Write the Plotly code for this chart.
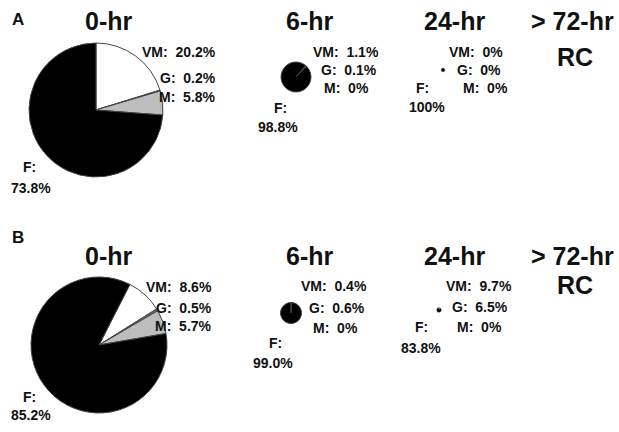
import plotly.graph_objects as go

W, H = 619, 432

# ---- data ----
categories = ["VM", "G", "M", "F"]
times = ["0-hr", "6-hr", "24-hr"]
panel_A = [[20.2, 0.2, 5.8, 73.8], [1.1, 0.1, 0.0, 98.8], [0.0, 0.0, 0.0, 100.0]]
panel_B = [[8.6, 0.5, 5.7, 85.2], [0.4, 0.6, 0.0, 99.0], [9.7, 6.5, 0.0, 83.8]]
f_labels_A = ["73.8%", "98.8%", "100%"]
f_labels_B = ["85.2%", "99.0%", "83.8%"]
last_label = ["> 72-hr", "RC"]

slice_colors = ["#ffffff", "#6e6e6e", "#bdbdbd", "#000000"]

# ---- layout (pixels) ----
pie_geom = {
    "A": [(96, 110, 67, 0), (296, 77, 15, 40), (443, 70, 1.8, 0)],
    "B": [(99, 345, 68, 27), (291, 313, 10.5, 0), (439, 310, 2.2, 0)],
}

fig = go.Figure()

def px(x):
    return x / W

def py(y):
    return 1 - y / H

for name, data in (("A", panel_A), ("B", panel_B)):
    for (cx, cy, r, rot), vals in zip(pie_geom[name], data):
        fig.add_trace(go.Pie(
            labels=categories, values=vals, sort=False, direction="clockwise",
            rotation=rot, textinfo="none", hoverinfo="label+value",
            marker=dict(colors=slice_colors,
                        line=dict(color="#444444", width=1 if r > 5 else 0.5)),
            domain=dict(x=[px(cx - r), px(cx + r)], y=[py(cy + r), py(cy - r)]),
            showlegend=False,
        ))

ann = []
FONT = "Liberation Sans, Arial"
LS = 14
TS = 25

def text(x, y, s, size=LS, anchor="center"):
    ann.append(dict(x=px(x), y=py(y), xref="paper", yref="paper", text=s,
                    showarrow=False, xanchor=anchor, yanchor="middle",
                    font=dict(family=FONT, size=size, color="#111111")))

# panel letters and titles
text(18, 20, "<b>A</b>", 17)
text(18, 237, "<b>B</b>", 17)
for ty in (21, 256):
    text(109, ty, "<b>" + times[0] + "</b>", TS)
    text(310, ty, "<b>" + times[1] + "</b>", TS)
    text(454, ty, "<b>" + times[2] + "</b>", TS)
    text(572, ty, "<b>" + last_label[0] + "</b>", TS)
text(575, 57, "<b>" + last_label[1] + "</b>", TS)
text(575, 285, "<b>" + last_label[1] + "</b>", TS)

def pct(v):
    return ("%g" % v) + "%" if v == 0 or v == 100 else "%.1f%%" % v

# row A labels
A0, A6, A24 = panel_A
text(218, 52, "<b>VM:  %s</b>" % pct(A0[0]), LS, "right")
text(218, 78, "<b>G:  %s</b>" % pct(A0[1]), LS, "right")
text(218, 97, "<b>M:  %s</b>" % pct(A0[2]), LS, "right")
text(29, 167, "<b>F:</b>")
text(31, 188, "<b>" + f_labels_A[0] + "</b>")

text(346, 52, "<b>VM:  %s</b>" % pct(A6[0]))
text(349, 70, "<b>G:  %s</b>" % pct(A6[1]))
text(346, 88, "<b>M:  %s</b>" % pct(A6[2]))
text(280, 108, "<b>F:</b>")
text(278, 127, "<b>" + f_labels_A[1] + "</b>")

text(476, 52, "<b>VM:  %s</b>" % pct(A24[0]))
text(479, 70, "<b>G:  %s</b>" % pct(A24[1]))
text(485, 88, "<b>M:  %s</b>" % pct(A24[2]))
text(422, 88, "<b>F:</b>")
text(427, 107, "<b>" + f_labels_A[2] + "</b>")

# row B labels
B0, B6, B24 = panel_B
text(214, 287, "<b>VM:  %s</b>" % pct(B0[0]), LS, "right")
text(214, 308, "<b>G:  %s</b>" % pct(B0[1]), LS, "right")
text(214, 326, "<b>M:  %s</b>" % pct(B0[2]), LS, "right")
text(29, 397, "<b>F:</b>")
text(31, 415, "<b>" + f_labels_B[0] + "</b>")

text(334, 286, "<b>VM:  %s</b>" % pct(B6[0]))
text(337, 308, "<b>G:  %s</b>" % pct(B6[1]))
text(335, 328, "<b>M:  %s</b>" % pct(B6[2]))
text(275, 343, "<b>F:</b>")
text(273, 363, "<b>" + f_labels_B[1] + "</b>")

text(479, 286, "<b>VM:  %s</b>" % pct(B24[0]))
text(480, 307, "<b>G:  %s</b>" % pct(B24[1]))
text(479, 327, "<b>M:  %s</b>" % pct(B24[2]))
text(421, 327, "<b>F:</b>")
text(421, 348, "<b>" + f_labels_B[2] + "</b>")

fig.update_layout(
    width=W, height=H, margin=dict(l=0, r=0, t=0, b=0),
    paper_bgcolor="white", plot_bgcolor="white", annotations=ann,
)
fig.write_html("out.html", config={"displayModeBar": False},
               post_script="document.body.style.margin='0px';document.body.style.overflow='hidden';")
